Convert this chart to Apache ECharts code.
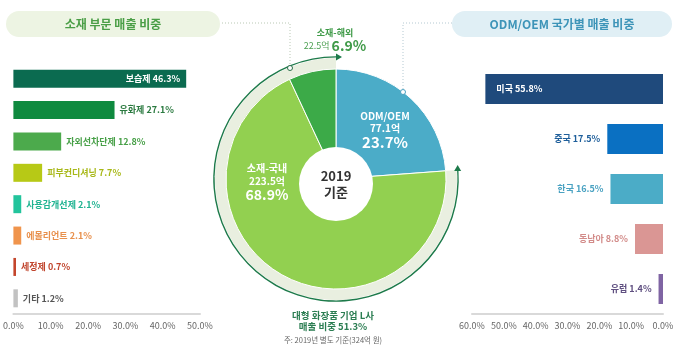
<!DOCTYPE html>
<html><head><meta charset="utf-8">
<script src="https://cdn.jsdelivr.net/npm/echarts@6/dist/echarts.min.js"></script>
<style>html,body{margin:0;padding:0;background:#fff}#c{width:680px;height:354px}</style>
</head><body><div id="c"></div>
<script>
// ---- data ----
const matCats = ['보습제','유화제','자외선차단제','피부컨디셔닝','사용감개선제','에몰리언트','세정제','기타'];
const matVals = [46.3, 27.1, 12.8, 7.7, 2.1, 2.1, 0.7, 1.2];
const odmCats = ['미국','중국','한국','동남아','유럽'];
const odmVals = [55.8, 17.5, 16.5, 8.8, 1.4];
const pieNames = ['ODM/OEM','소재-국내','소재-해외'];
const pieAmounts = [77.1, 223.5, 22.5];
const pieShares = [23.7, 68.9, 6.9];
const lShare = 51.3;
const leftTicks = [0, 10, 20, 30, 40, 50];
const rightTicks = [0, 10, 20, 30, 40, 50, 60];

// ---- styles ----
const FONT = '"Noto Sans CJK KR","Noto Sans",sans-serif';
const matColors = ['#0b6b50','#0f8a3f','#4caa4c','#b7c916','#22c49c','#f0944c','#c4462c','#c2c2c2'];
const matLabelColors = ['#ffffff','#2b7a40','#48a048','#a8b818','#1fb391','#e8904c','#c0442c','#555555'];
const odmColors = ['#1f4a7c','#0a70c2','#4bacc7','#da9694','#7f64a3'];
const odmLabelColors = ['#ffffff','#1f5f9b','#4aa2c2','#d28b89','#5f4f80'];
const pieColors = ['#4bacc8','#92d050','#3caa48'];
const CX = 336, CY = 179, R = 110, RING = 121, ARC = 122;
const darkGreen = '#1d7a4a';

const chart = echarts.init(document.getElementById('c'));

const axisLabelStyle = {color:'#666', fontSize:9, fontFamily:FONT, margin:7};

function arrowPts(x, y, dir){ // dir: 'right' or 'up'
  if(dir==='right') return [[x+5,y],[x-1,y-3.5],[x-1,y+3.5]];
  return [[x,y-5],[x-3.5,y+1],[x+3.5,y+1]];
}
const topAngle = 0;
const rightAngle = pieShares[0]/pieShares.reduce((a,b)=>a+b,0)*2*Math.PI;
const rx = CX + ARC*Math.sin(rightAngle), ry = CY - ARC*Math.cos(rightAngle);

const option = {
  animation:false,
  textStyle:{fontFamily:FONT},
  grid:[
    {left:12, width:188, top:63, height:251},
    {left:472, width:191, top:64, height:250}
  ],
  xAxis:[
    {gridIndex:0, type:'value', min:0, max:50, interval:10, position:'bottom',
     axisLine:{show:true, lineStyle:{color:'#d9d9d9', width:2}}, axisTick:{show:false}, splitLine:{show:false},
     axisLabel:Object.assign({formatter:v=>v.toFixed(1)+'%'}, axisLabelStyle)},
    {gridIndex:1, type:'value', min:0, max:60, interval:10, inverse:true, position:'bottom',
     axisLine:{show:true, lineStyle:{color:'#d9d9d9', width:2}}, axisTick:{show:false}, splitLine:{show:false},
     axisLabel:Object.assign({formatter:v=>v.toFixed(1)+'%'}, axisLabelStyle)}
  ],
  yAxis:[
    {gridIndex:0, type:'category', data:matCats, inverse:true, show:false},
    {gridIndex:1, type:'category', data:odmCats, inverse:true, show:false}
  ],
  series:[
    {type:'bar', xAxisIndex:0, yAxisIndex:0, barWidth:18, silent:true,
     data: matVals.map((v,i)=>({value:v, itemStyle:{color:matColors[i]},
       label:{show:true, position: i===0?'insideRight':'right', distance:i===0?6:5,
         formatter: matCats[i]+' '+v.toFixed(1)+'%', color:matLabelColors[i], fontSize:9, fontWeight:'bold', fontFamily:FONT}}))},
    {type:'bar', xAxisIndex:1, yAxisIndex:1, barWidth:30, silent:true,
     data: odmVals.map((v,i)=>({value:v, itemStyle:{color:odmColors[i]},
       label:{show:true, position: i===0?'insideLeft':'left', distance:i===0?11:7,
         formatter: odmCats[i]+' '+v.toFixed(1)+'%', color:odmLabelColors[i], fontSize:9, fontWeight:'bold', fontFamily:FONT}}))},
    // beige ring around material slices
    {type:'pie', center:[CX,CY], radius:[R-1, RING], silent:true, label:{show:false}, labelLine:{show:false},
     data:[{value:pieShares[0], itemStyle:{color:'rgba(0,0,0,0)'}},
           {value:pieShares[1]+pieShares[2], itemStyle:{color:'#e9efe0'}}]},
    // dark green arc line
    {type:'pie', center:[CX,CY], radius:[ARC-0.6, ARC+0.8], silent:true, label:{show:false}, labelLine:{show:false},
     data:[{value:pieShares[0], itemStyle:{color:'rgba(0,0,0,0)'}},
           {value:lShare, itemStyle:{color:darkGreen}},
           {value:pieShares[0]+pieShares[1]+pieShares[2]-pieShares[0]-lShare, itemStyle:{color:darkGreen}}]},
    // main pie
    {type:'pie', center:[CX,CY], radius:[0, R], silent:true, label:{show:false}, labelLine:{show:false},
     itemStyle:{borderColor:'#fff', borderWidth:1},
     data: pieNames.map((n,i)=>({name:n, value:pieShares[i], itemStyle:{color:pieColors[i]}}))}
  ],
  graphic:[
    // title pills
    {type:'rect', left:6, top:11, shape:{width:214, height:26, r:13}, style:{fill:'#edf4e3'}, z:1},
    {type:'text', x:113, y:24, style:{text:'소재 부문 매출 비중', fill:'#4a9e46', font:'bold 12px '+FONT, textAlign:'center', textVerticalAlign:'middle'}, z:2},
    {type:'rect', left:452, top:11, shape:{width:220, height:26, r:13}, style:{fill:'#e0eff5'}, z:1},
    {type:'text', x:562, y:24, style:{text:'ODM/OEM 국가별 매출 비중', fill:'#3d94b8', font:'bold 12px '+FONT, textAlign:'center', textVerticalAlign:'middle'}, z:2},
    // dotted connectors
    {type:'polyline', shape:{points:[[222,23],[290,23],[290,67]]}, style:{stroke:'#b9c8b4', lineWidth:1, lineDash:[1,2], fill:null}, z:5},
    {type:'circle', shape:{cx:290, cy:68, r:2.5}, style:{fill:'#fff', stroke:'#2d6e4a', lineWidth:1}, z:20},
    {type:'polyline', shape:{points:[[452,23],[403,23],[403,90]]}, style:{stroke:'#b4c9d2', lineWidth:1, lineDash:[1,2], fill:null}, z:5},
    {type:'circle', shape:{cx:403, cy:92, r:2.5}, style:{fill:'#fff', stroke:'#4aa0c0', lineWidth:1}, z:20},
    // arrowheads
    {type:'polygon', shape:{points:arrowPts(CX+1, CY-ARC, 'right')}, style:{fill:darkGreen}, z:20},
    {type:'polygon', shape:{points:arrowPts(rx, ry, 'up')}, style:{fill:darkGreen}, z:20},
    // centre circle
    {type:'circle', shape:{cx:CX, cy:CY+5, r:37}, style:{fill:'#fff'}, z:20},
    {type:'text', x:CX, y:CY-3, style:{text:'2019', fill:'#333', font:'bold 13px '+FONT, textAlign:'center', textVerticalAlign:'middle'}, z:21},
    {type:'text', x:CX, y:CY+13, style:{text:'기준', fill:'#333', font:'bold 13px '+FONT, textAlign:'center', textVerticalAlign:'middle'}, z:21},
    // slice labels
    {type:'text', x:385, y:116, style:{text:pieNames[0], fill:'#fff', font:'bold 10px '+FONT, textAlign:'center', textVerticalAlign:'middle'}, z:21},
    {type:'text', x:385, y:128, style:{text:pieAmounts[0].toFixed(1)+'억', fill:'#fff', font:'bold 10px '+FONT, textAlign:'center', textVerticalAlign:'middle'}, z:21},
    {type:'text', x:385, y:142, style:{text:pieShares[0].toFixed(1)+'%', fill:'#fff', font:'bold 15px '+FONT, textAlign:'center', textVerticalAlign:'middle'}, z:21},
    {type:'text', x:267, y:168, style:{text:pieNames[1], fill:'#fff', font:'bold 10px '+FONT, textAlign:'center', textVerticalAlign:'middle'}, z:21},
    {type:'text', x:267, y:181, style:{text:pieAmounts[1].toFixed(1)+'억', fill:'#fff', font:'bold 10px '+FONT, textAlign:'center', textVerticalAlign:'middle'}, z:21},
    {type:'text', x:267, y:195, style:{text:pieShares[1].toFixed(1)+'%', fill:'#fff', font:'bold 14px '+FONT, textAlign:'center', textVerticalAlign:'middle'}, z:21},
    {type:'text', x:335, y:33, style:{text:pieNames[2], fill:'#3f9a48', font:'bold 9px '+FONT, textAlign:'center', textVerticalAlign:'middle'}, z:21},
    {type:'text', x:335, y:46, style:{text:'{a|'+pieAmounts[2].toFixed(1)+'억 }{b|'+pieShares[2].toFixed(1)+'%}', textAlign:'center', textVerticalAlign:'middle',
      rich:{a:{fill:'#4a9e50', font:'9px '+FONT}, b:{fill:'#3f9a48', font:'bold 14px '+FONT}}}, z:21},
    // bottom texts
    {type:'text', x:333, y:315, style:{text:'대형 화장품 기업 L사', fill:'#2b7d52', font:'bold 9.5px '+FONT, textAlign:'center', textVerticalAlign:'middle'}, z:21},
    {type:'text', x:333, y:326, style:{text:'매출 비중 '+lShare.toFixed(1)+'%', fill:'#2b7d52', font:'bold 9.5px '+FONT, textAlign:'center', textVerticalAlign:'middle'}, z:21},
    {type:'text', x:333, y:340, style:{text:'주: 2019년 별도 기준(324억 원)', fill:'#666', font:'7.5px '+FONT, textAlign:'center', textVerticalAlign:'middle'}, z:21}
  ]
};
chart.setOption(option);
</script></body></html>
